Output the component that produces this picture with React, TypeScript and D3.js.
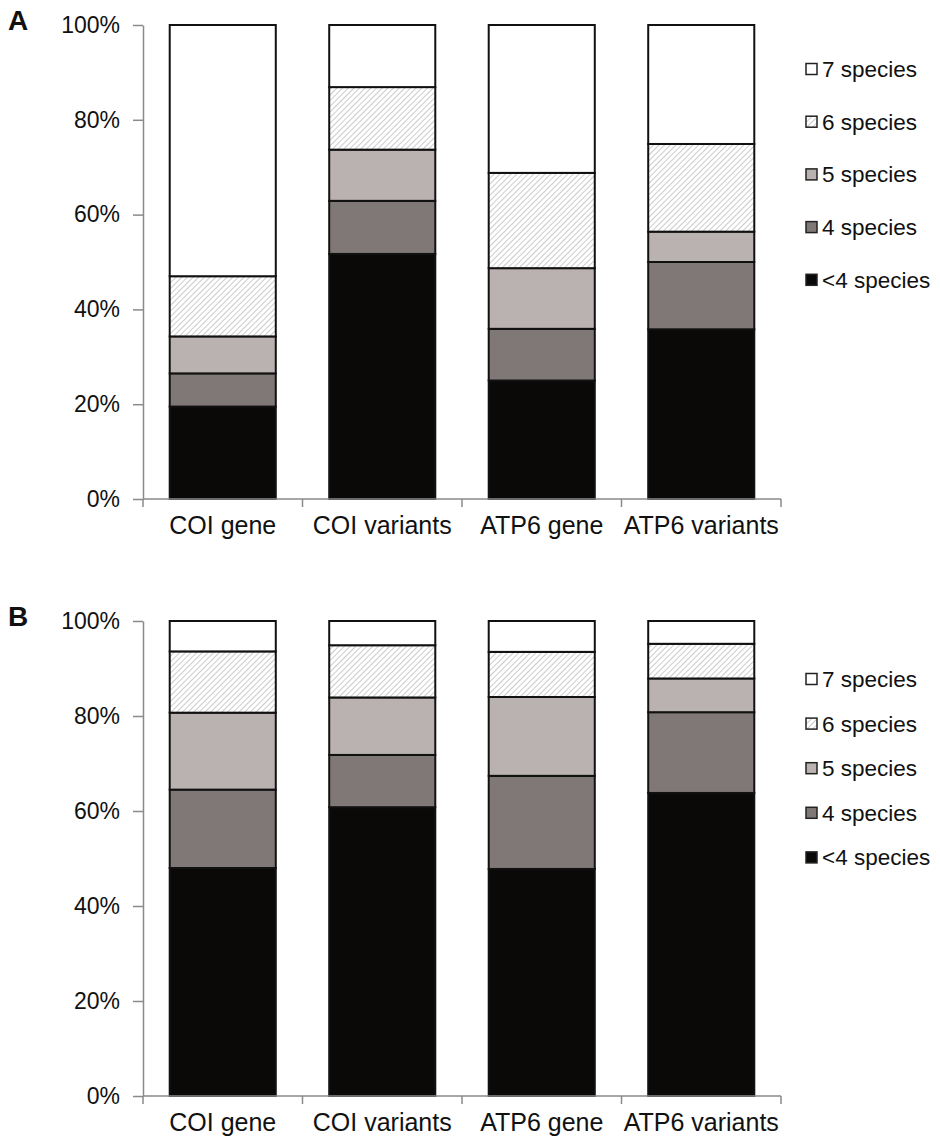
import React, { useRef, useEffect } from "react";
import { select, scaleBand, scaleLinear, stack, axisLeft } from "d3";

const categories = ["COI gene", "COI variants", "ATP6 gene", "ATP6 variants"];
const groups = ["<4 species", "4 species", "5 species", "6 species", "7 species"];
const yTicks = [0, 20, 40, 60, 80, 100];

// panel A (% of sites), one array per group, in category order
const lt4A = [19.5, 51.7, 25.0, 35.8];
const sp4A = [7.0, 11.2, 10.9, 14.2];
const sp5A = [7.8, 10.8, 12.8, 6.4];
const sp6A = [12.7, 13.2, 20.1, 18.5];
const sp7A = [53.0, 13.1, 31.2, 25.1];

// panel B
const lt4B = [48.0, 60.8, 47.8, 63.8];
const sp4B = [16.5, 11.0, 19.6, 17.0];
const sp5B = [16.2, 12.1, 16.6, 7.1];
const sp6B = [12.9, 11.0, 9.5, 7.3];
const sp7B = [6.4, 5.1, 6.5, 4.8];

const fills = ["#0a0908", "#807876", "#bab2b0", "url(#hatch)", "#ffffff"];
const FONT = "'Liberation Sans', Arial, sans-serif";

function toRows(series: number[][]) {
  return categories.map((c, i) => {
    const row: any = { cat: c };
    groups.forEach((g, j) => (row[g] = series[j][i]));
    return row;
  });
}

const panels = [
  { label: "A", rows: toRows([lt4A, sp4A, sp5A, sp6A, sp7A]), top: 25, bottom: 499, legendY: 69, legendStep: 52.7 },
  { label: "B", rows: toRows([lt4B, sp4B, sp5B, sp6B, sp7B]), top: 621, bottom: 1096, legendY: 679, legendStep: 44.6 },
];

function App() {
  const svgRef = useRef<SVGSVGElement>(null);

  useEffect(() => {
    const svg = select(svgRef.current);
    svg.selectAll(".panel").remove();

    const xScale = scaleBand<string>()
      .domain(categories)
      .range([143, 781])
      .paddingInner(0.335)
      .paddingOuter(0.1675);
    const step = xScale.step();

    panels.forEach((p) => {
      const g = svg.append("g").attr("class", "panel");
      const yScale = scaleLinear().domain([0, 100]).range([p.bottom, p.top]);
      const stacked = stack().keys(groups)(p.rows);

      // y axis
      const yAxis = axisLeft(yScale)
        .tickValues(yTicks)
        .tickFormat((d) => d + "%")
        .tickSize(10)
        .tickSizeOuter(0)
        .tickPadding(13);
      const ya = g.append("g").attr("transform", "translate(143,0)").call(yAxis);
      ya.select(".domain").attr("stroke", "#8a8a8a").attr("stroke-width", 1.5);
      ya.selectAll(".tick line").attr("stroke", "#8a8a8a").attr("stroke-width", 1.5);
      ya.selectAll(".tick text")
        .attr("font-family", FONT)
        .attr("font-size", 23)
        .attr("fill", "#111");

      // bars
      g.selectAll(".layer")
        .data(stacked)
        .join("g")
        .attr("class", "layer")
        .attr("fill", (d, i) => fills[i])
        .selectAll("rect")
        .data((d) => d)
        .join("rect")
        .attr("x", (d: any) => xScale(d.data.cat) as number)
        .attr("y", (d) => yScale(d[1]))
        .attr("width", xScale.bandwidth())
        .attr("height", (d) => yScale(d[0]) - yScale(d[1]))
        .attr("stroke", "#111")
        .attr("stroke-width", 2);

      // x axis (ticks at band boundaries)
      g.append("line")
        .attr("x1", 143)
        .attr("x2", 781)
        .attr("y1", p.bottom)
        .attr("y2", p.bottom)
        .attr("stroke", "#8a8a8a")
        .attr("stroke-width", 1.5);
      g.selectAll(".xtick")
        .data([0, 1, 2, 3, 4])
        .join("line")
        .attr("class", "xtick")
        .attr("x1", (i) => 143 + i * step)
        .attr("x2", (i) => 143 + i * step)
        .attr("y1", p.bottom)
        .attr("y2", p.bottom + 8)
        .attr("stroke", "#8a8a8a")
        .attr("stroke-width", 1.5);
      g.selectAll(".xlabel")
        .data(categories)
        .join("text")
        .attr("class", "xlabel")
        .attr("x", (c) => (xScale(c) as number) + xScale.bandwidth() / 2)
        .attr("y", p.bottom + 35)
        .attr("text-anchor", "middle")
        .attr("font-family", FONT)
        .attr("font-size", 25)
        .attr("fill", "#111")
        .text((c) => c);

      // panel letter
      g.append("text")
        .attr("x", 8)
        .attr("y", p.top + 5)
        .attr("font-family", FONT)
        .attr("font-weight", "bold")
        .attr("font-size", 28)
        .attr("fill", "#111")
        .text(p.label);

      // legend, top entry is 7 species
      const legendItems = groups.map((name, i) => ({ name, fill: fills[i] })).reverse();
      const lg = g.selectAll(".leg")
        .data(legendItems)
        .join("g")
        .attr("class", "leg")
        .attr("transform", (d, i) => `translate(806,${p.legendY + i * p.legendStep})`);
      lg.append("rect")
        .attr("x", 0)
        .attr("y", -5.5)
        .attr("width", 11)
        .attr("height", 11)
        .attr("fill", (d) => d.fill)
        .attr("stroke", "#222")
        .attr("stroke-width", 1.5);
      lg.append("text")
        .attr("x", 16)
        .attr("y", 8)
        .attr("font-family", FONT)
        .attr("font-size", 22.5)
        .attr("fill", "#111")
        .text((d) => d.name);
    });
  }, []);

  return (
    <svg
      ref={svgRef}
      width={940}
      height={1137}
      style={{ position: "absolute", left: 0, top: 0, background: "#fff" }}
    >
      <defs>
        <pattern id="hatch" patternUnits="userSpaceOnUse" width={4} height={4} patternTransform="rotate(45)">
          <rect width={4} height={4} fill="#fff" />
          <line x1={0} y1={0} x2={0} y2={4} stroke="#a8a8a8" strokeWidth={1.2} />
        </pattern>
      </defs>
    </svg>
  );
}

export default App;
